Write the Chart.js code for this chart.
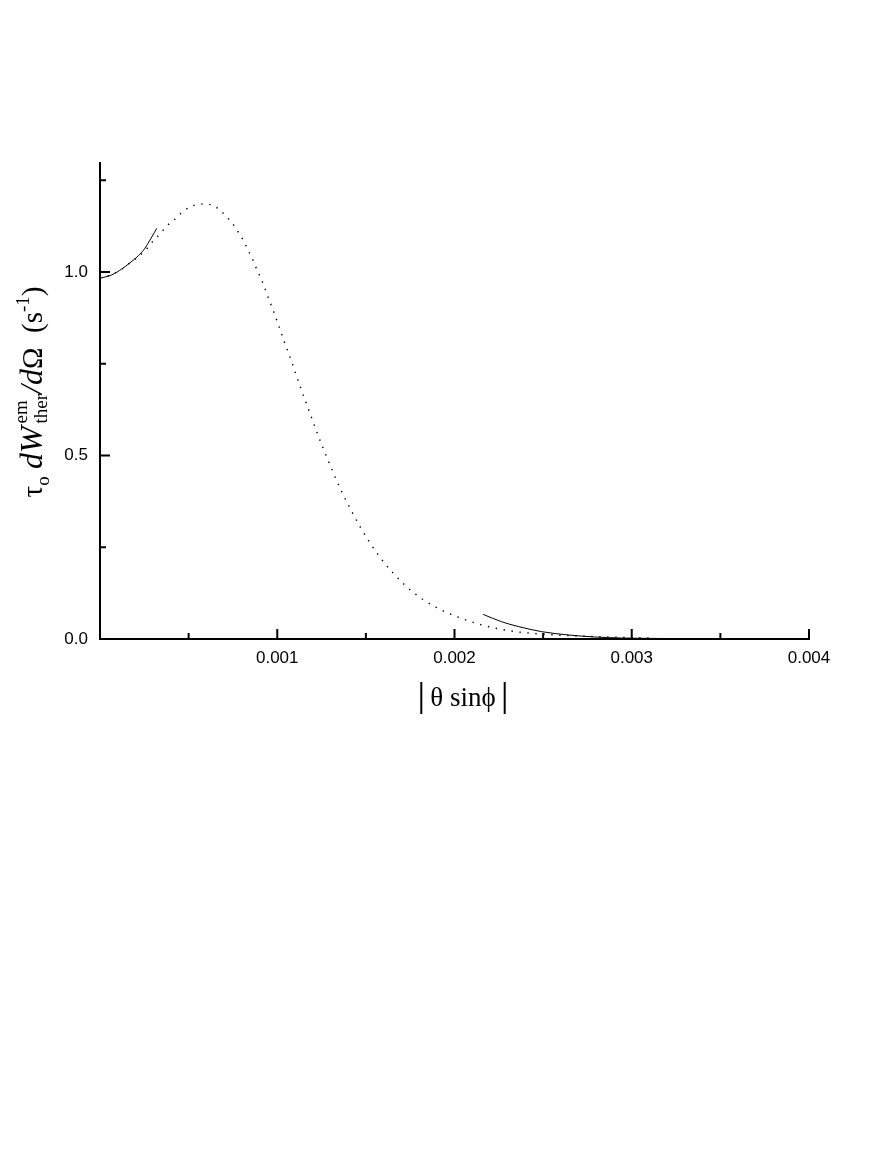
<!DOCTYPE html>
<html>
<head>
<meta charset="utf-8">
<script src="https://cdn.jsdelivr.net/npm/chart.js@4.4.0/dist/chart.umd.min.js"></script>
<style>
html,body{margin:0;padding:0;background:#fff;}
#wrap{width:879px;height:1154px;position:relative;}
</style>
</head>
<body>
<div id="wrap"><canvas id="c" width="879" height="1154"></canvas></div>
<script>
// ---- data ----
const dottedX = [0, 0.00006, 0.00012, 0.00017, 0.000216, 0.000258, 0.000297, 0.000339, 0.000376, 0.000423,
  0.000464, 0.000508, 0.000551, 0.000596, 0.000639, 0.000683, 0.000724, 0.000758, 0.000786, 0.000812,
  0.000833, 0.000856, 0.000874, 0.000893, 0.000912, 0.000946, 0.000978, 0.00101, 0.00104, 0.001072,
  0.001102, 0.001132, 0.001164, 0.001196, 0.001228, 0.001262, 0.001298, 0.001335, 0.001375, 0.00142,
  0.001467, 0.001522, 0.001581, 0.001653, 0.001738, 0.001824, 0.001913, 0.002001, 0.002088, 0.002172,
  0.002257, 0.002347, 0.002436, 0.002567, 0.002652, 0.002746, 0.002859, 0.00299, 0.0031];
const dottedY = [0.983, 0.992, 1.007, 1.025, 1.042, 1.060, 1.083, 1.104, 1.125, 1.144,
  1.163, 1.177, 1.184, 1.185, 1.181, 1.166, 1.145, 1.125, 1.104, 1.083,
  1.062, 1.040, 1.019, 0.998, 0.978, 0.935, 0.894, 0.851, 0.809, 0.768,
  0.726, 0.684, 0.642, 0.600, 0.558, 0.516, 0.474, 0.432, 0.390, 0.348,
  0.306, 0.263, 0.222, 0.180, 0.139, 0.107, 0.082, 0.063, 0.048, 0.036,
  0.027, 0.020, 0.0155, 0.011, 0.009, 0.0072, 0.0058, 0.004, 0.003];

const solidLowX = [0, 0.000066, 0.000122, 0.000169, 0.000216, 0.000254, 0.000282, 0.000306, 0.00032];
const solidLowY = [0.983, 0.992, 1.008, 1.025, 1.044, 1.065, 1.087, 1.107, 1.119];

const solidHighX = [0.002162, 0.002266, 0.00236, 0.002492, 0.002642, 0.002793, 0.002943, 0.00314, 0.00327];
const solidHighY = [0.067, 0.047, 0.034, 0.020, 0.011, 0.0054, 0.0027, 0.0015, 0.001];

const xTicks = [0, 0.001, 0.002, 0.003, 0.004];
const xMinorTicks = [0.0005, 0.0015, 0.0025, 0.0035];
const yTicks = [0, 0.5, 1.0];
const yMinorTicks = [0.25, 0.75, 1.25];
const xMin = 0, xMax = 0.004, yMin = 0, yMax = 1.297;

const pts = (xs, ys) => xs.map((v, i) => ({x: v, y: ys[i]}));

const TICK_FONT = {family: '"Liberation Sans", Arial, sans-serif', size: 17};
const SERIF = '"Liberation Serif", "Times New Roman", "DejaVu Serif", serif';

const decor = {
  id: 'decor',
  afterDraw(chart) {
    const {ctx, chartArea: a} = chart;
    const x = chart.scales.x, y = chart.scales.y;
    ctx.save();
    ctx.strokeStyle = '#000';
    ctx.lineWidth = 2;
    ctx.lineCap = 'butt';
    const line = (x1, y1, x2, y2) => { ctx.beginPath(); ctx.moveTo(x1, y1); ctx.lineTo(x2, y2); ctx.stroke(); };
    xTicks.forEach(v => { if (v === 0) return; const p = x.getPixelForValue(v); line(p, a.bottom, p, a.bottom - 10); });
    xMinorTicks.forEach(v => { const p = x.getPixelForValue(v); line(p, a.bottom, p, a.bottom - 6); });
    yTicks.forEach(v => { if (v === 0) return; const p = y.getPixelForValue(v); line(a.left, p, a.left + 10, p); });
    yMinorTicks.forEach(v => { const p = y.getPixelForValue(v); line(a.left, p, a.left + 6, p); });

    // x-axis title |θ sinϕ|
    ctx.fillStyle = '#000';
    ctx.font = '27px ' + SERIF;
    ctx.textBaseline = 'alphabetic';
    ctx.textAlign = 'center';
    const xt = 'θ sinϕ';
    const cx = 463, base = 706;
    ctx.fillText(xt, cx, base);
    const w = ctx.measureText(xt).width;
    ctx.lineWidth = 2;
    line(cx - w / 2 - 9, 682, cx - w / 2 - 9, 714);
    line(cx + w / 2 + 9, 682, cx + w / 2 + 9, 714);

    // y-axis title  τ_o dW^{em}_{ther}/dΩ  (s^{-1})
    const big = '29px ' + SERIF, bigI = 'italic 32px ' + SERIF, small = '19px ' + SERIF;
    const parts = [
      {t: 'τ', f: big, dy: 0},
      {t: 'o', f: small, dy: 7},
      {t: ' ', f: big, dy: 0},
      {t: 'dW', f: bigI, dy: 0},
      {t: '', f: small, dy: 0, gap: 3},
      {stack: [{t: 'em', f: small, dy: -15}, {t: 'ther', f: small, dy: 5}]},
      {t: '/', f: bigI, dy: 0},
      {t: 'd', f: bigI, dy: 0},
      {t: 'Ω', f: big, dy: 0},
      {t: '  (s', f: big, dy: 0},
      {t: '-1', f: small, dy: -13},
      {t: ')', f: big, dy: 0}
    ];
    ctx.textAlign = 'left';
    const widthOf = p => {
      if (p.gap) return p.gap;
      if (p.stack) return Math.max(...p.stack.map(s => { ctx.font = s.f; return ctx.measureText(s.t).width; }));
      ctx.font = p.f; return ctx.measureText(p.t).width;
    };
    const total = parts.reduce((s, p) => s + widthOf(p), 0);
    ctx.translate(42, 392 + total / 2);
    ctx.rotate(-Math.PI / 2);
    let pos = 0;
    parts.forEach(p => {
      const wd = widthOf(p);
      if (p.stack) {
        p.stack.forEach(s => { ctx.font = s.f; ctx.fillText(s.t, pos, s.dy); });
      } else if (p.t) {
        ctx.font = p.f; ctx.fillText(p.t, pos, p.dy);
      }
      pos += wd;
    });
    ctx.restore();
  }
};

new Chart(document.getElementById('c'), {
  type: 'scatter',
  data: {
    datasets: [
      {data: pts(dottedX, dottedY), showLine: true, borderColor: '#000', borderWidth: 1.4,
       borderDash: [1.4, 6.6], pointRadius: 0, cubicInterpolationMode: 'monotone'},
      {data: pts(solidLowX, solidLowY), showLine: true, borderColor: '#000', borderWidth: 1,
       pointRadius: 0, cubicInterpolationMode: 'monotone'},
      {data: pts(solidHighX, solidHighY), showLine: true, borderColor: '#000', borderWidth: 1,
       pointRadius: 0, cubicInterpolationMode: 'monotone'}
    ]
  },
  options: {
    responsive: false,
    devicePixelRatio: 1,
    animation: false,
    layout: {padding: {top: 163, right: 70, bottom: 0, left: 0}},
    plugins: {legend: {display: false}, tooltip: {enabled: false}},
    scales: {
      x: {
        type: 'linear', min: xMin, max: xMax,
        afterBuildTicks: s => { s.ticks = xTicks.map(v => ({value: v})); },
        afterFit: s => { s.height = 1154 - 639; s.paddingLeft = 0; s.paddingRight = 0; },
        grid: {display: false, drawTicks: false},
        border: {display: true, color: '#000', width: 2},
        ticks: {color: '#000', font: TICK_FONT, padding: 9, maxRotation: 0, autoSkip: false,
                callback: v => v === 0 ? '' : v.toFixed(3)}
      },
      y: {
        type: 'linear', min: yMin, max: yMax,
        afterBuildTicks: s => { s.ticks = yTicks.map(v => ({value: v})); },
        afterFit: s => { s.width = 100; },
        grid: {display: false, drawTicks: false},
        border: {display: true, color: '#000', width: 2},
        ticks: {color: '#000', font: TICK_FONT, padding: 12, autoSkip: false,
                callback: v => v.toFixed(1)}
      }
    }
  },
  plugins: [decor]
});
</script>
</body>
</html>
